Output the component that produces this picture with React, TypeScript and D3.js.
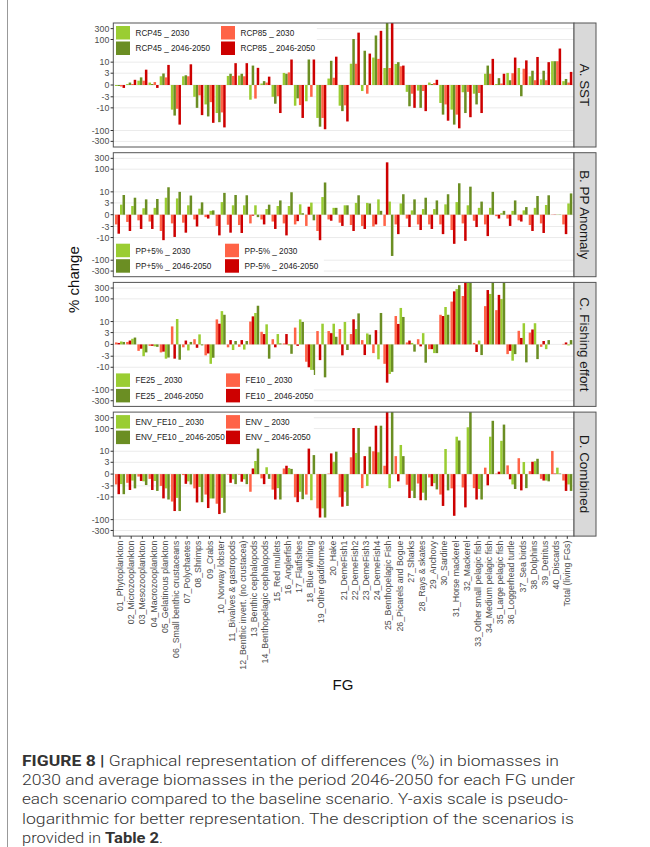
import React from "react";
import * as d3 from "d3";

// ---------- DATA ----------
const categories = [
  "01_Phytoplankton", "02_Microzooplankton", "03_Mesozooplankton", "04_Macrozooplankton",
  "05_Gelatinous plankton", "06_Small benthic crustaceans", "07_Polychaetes", "08_Shrimps",
  "09_Crabs", "10_Norway lobster", "11_Bivalves & gastropods", "12_Benthic invert. (no crustacea)",
  "13_Benthic cephalopods", "14_Benthopelagic cephalopods", "15_Red mullets", "16_Anglerfish",
  "17_Flatfishes", "18_Blue whiting", "19_Other gadiformes", "20_Hake", "21_DemeFish1",
  "22_DemeFish2", "23_DemeFish3", "24_DemeFish4", "25_Benthopelagic Fish", "26_Picarels and Bogue",
  "27_Sharks", "28_Rays & skates", "29_Anchovy", "30_Sardine", "31_Horse mackerel", "32_Mackerel",
  "33_Other small pelagic fish", "34_Medium pelagic fish", "35_Large pelagic fish",
  "36_Loggerhead turtle", "37_Sea birds", "38_Dolphins", "39_Detritus", "40_Discards",
  "Total (living FGs)",
];

const yTicks = [-300, -100, -10, -3, 0, 3, 10, 100, 300];

// A. SST
const rcp45_2030 = [-0.2, 0.2, 0.9, 0.5, 2.0, -12, 2.0, -3, -7, -17, 2.1, 2.2, -4.2, 0.3, -3, 3.1, -8, -5, -28, 1.4, -8, 8.5, -1.3, 16, 5.4, 8.3, -1.5, -1.2, 0.5, -6, -12, -1.6, -2, 2.8, 0.2, 3.1, 5.4, 2, 1.2, 11, 0.8];
const rcp45_2050 = [-0.2, 0.5, 1.7, 0.2, 2.9, -22, 2.3, -10, -24, -43, 2.8, 2.8, 7, 0.8, -6.5, 2.8, -3.6, 19, -68, 11.5, -14, 105, 32, 150, 600, 10, -8.5, -10, 0.2, -20, -55, -17, -7, 7, 1.5, 1, -2.8, 4, 4, 11, 1.3];
const rcp85_2030 = [-0.3, 0.2, 0.9, 0.6, 1.7, -11, 2.0, -2.5, -5.5, -16, 2.1, 2.0, -3.7, 0.5, -2.8, 3.3, -7.5, -3, -28, 1.6, -7.7, 8.5, -2, 14, 5.4, 6.5, -2, -1.3, 0.4, -7, -20, -1.5, -1.8, 2.8, 0.3, 3, 5, 1, 1, 11, 0.5];
const rcp85_2050 = [-0.6, 1.1, 4.5, -0.6, 7.5, -55, 8, -21, -46, -73, 9, 9, 5.5, 1.9, -17, 19, -28, 17, -88, 17.5, -40, 200, 24, 240, 600, 7, -10, -14, 1.1, -37, -80, -26, -17, 14, 2.8, 16, 12, 17, 10, 40, 3.5];

// B. PP Anomaly
const ppPlus_2030 = [2.4, 2, 1.4, 1.5, 5.4, 5, 2.2, 1.3, 0.8, 3.3, 2.2, 2.2, 2.2, 1.2, 2, 2, 2.5, 3.1, 5.8, 1.5, 2.2, 3, 3, 4.5, 3.5, 2.8, 0.9, 1.2, 1.2, 2.5, 3.3, 2.2, 1.5, 1.5, 0.3, 0.8, 0.9, 1.5, 2.3, 0.05, 2.8];
const ppPlus_2050 = [7.2, 5.4, 4.5, 4.7, 16, 10, 6.8, 3.2, 0.9, 9, 7.2, 7, -0.5, 2.4, 4, 9.6, 0.3, -1.2, 26, 1.5, 2.2, 7, 2.8, 0.8, -65, 7.8, 4.5, 5.4, 4, 7.8, 24, 17, 3.5, 10, 0.8, 4, 1.7, 6.5, 7, 0.05, 8.5];
const ppMinus_2030 = [-2.3, -1.6, -1.2, -1.5, -5, -2, -1.8, -1, -0.5, -2.8, -2.4, -2.5, -2, -1, -1.5, -2, -2.3, -2.8, -5, -1, -1.8, -2.5, -2.8, -3, -2.8, -2.3, -0.8, -2.3, -2.3, -2.3, -4.5, -2, -1.3, -2.3, -0.3, -0.8, -1.2, -2.5, -2, -0.05, -2.3];
const ppMinus_2050 = [-6.7, -5, -4, -4, -14, -9.4, -6, -3, -0.8, -8, -6, -6.2, -0.2, -2.3, -4, -8, -1.4, 1.8, -18, -1.3, -2.8, -5, -4, -2.3, 200, -7, -3.2, -4.5, -4, -7, -19, -14, -3.2, -8.6, -0.8, -2.8, -1.5, -5, -6.2, -0.05, -7];

// C. Fishing effort
const fe25_2030 = [0.6, 1.2, -3, -0.4, -4, 13, -1.3, 2.4, -7, 29, -1.2, -1.1, 24, 7.5, 2.5, -0.2, 12.5, -14, 8, 8, 9.6, 4.5, 2.7, -4.3, -20, 40, 0.3, 2.8, -2, 44, 270, 600, 0.8, 165, 98, -5, 8.4, 8.4, -1, 0, -0.2];
const fe25_2050 = [0.5, 1.5, -1.8, -0.5, -3.5, -4.5, 0.5, -0.2, -3.6, 20, 0.7, 0.7, 50, -4, 0.2, -2.2, 9.6, -22, -28, 1.7, -1.2, 23, 2.3, 24, -16, 16, -1.6, -6.2, -2, 20, 400, 600, -2.6, 600, 600, -2.3, -6, -4.2, 0.9, 0, 0.9];
const fe10_2030 = [0.4, 0.5, -1.4, -0.3, -1.8, 6, -0.6, 1.1, -2.7, 12.5, -0.6, -0.5, 10, 3.3, 1.1, 0.2, 5.3, -5.6, 3.6, 3.6, 4.5, 2.5, 0.9, -2, -7, 17.6, 0.4, 1.1, -1, 20, 76, 134, 0.3, 48, 32, -2.3, 3.7, 3, -0.5, 0, 0.1];
const fe10_2050 = [0.3, 0.8, -0.9, -0.3, -1.6, -4, 0.8, -0.7, -2.1, 8, 0.9, 0.9, 17, 2.5, -0.6, 2.5, -0.3, -10, -4.7, 2.8, -2.7, 12.6, -2.6, 4, -48, 7.8, 0.8, -0.4, -1, 17.6, 214, 600, -1.7, 245, 150, -1.4, 1.4, 4.3, 0.7, 0, 0.4];

// D. Combined
const envFe10_2030 = [-2.4, -1.4, -1.6, -1.5, -4, -11, -1.6, -3.4, -11.7, -11, -1.1, -1.1, 3.5, 1.5, -3.9, 1.3, -5.8, -14, -32, 3.2, -5.8, 8.4, -3, 9, -3.9, 19, -5.2, -6.4, -2.1, 12.6, 44, 114, -4.3, 44, 29, -2.5, 3.1, 3.4, -1.4, 1.4, -2.5];
const envFe10_2050 = [-7.5, -4, -2.7, -5.3, -13, -42, -2.5, -17, -11.7, -50, -2.4, -2.4, 15, -1, -13, 1.1, -12.6, 6.7, -81, 9.6, -25, 106, 16, 134, 600, 6, -11.2, -14, -4.5, -5, 30, 600, -13, 220, 150, -4.3, -3.9, 4.5, -1.6, 0.1, -5.3];
const env_2030 = [-2.5, -2, -0.5, -1, -3, -16, -0.2, -4, -7.8, -20, -0.1, -0.1, -5.8, -0.9, -4.6, 1.2, -10.3, -7.8, -32, 0.1, -10.3, 5.3, -3.9, 10, 1.9, 6, -2.6, -2.2, -0.7, -7.8, -4, -3.6, -3.9, 1.4, 0.1, 2, 4.8, 0.6, -1, 10.3, -1.4];
const env_2050 = [-7.5, -4.8, -1.5, -4.8, -11.6, -42, -2.3, -17.6, -31, -57, -2, -1.7, 1.2, -2.4, -13, 1.9, -17, 19, -81, 8, -27, 106, 6, 134, 600, -1.6, -11.2, -14, -3.1, -25, -68, -29, -13, -2.8, 0.5, -1.1, -5, 3.2, -1.4, 0.1, -5.3];

const C_LG = "#9ACD32";
const C_DG = "#6B8E23";
const C_SAL = "#FF6347";
const C_RED = "#CD0000";

const panels = [
  {
    strip: "A. SST", legendAt: "top", col2X: 221, boxW: 203,
    series: [
      { label: "RCP45 _ 2030", values: rcp45_2030, color: C_LG },
      { label: "RCP45 _ 2046-2050", values: rcp45_2050, color: C_DG },
      { label: "RCP85 _ 2030", values: rcp85_2030, color: C_SAL },
      { label: "RCP85 _ 2046-2050", values: rcp85_2050, color: C_RED },
    ],
    dodge: [0, 1, 2, 3],
  },
  {
    strip: "B. PP Anomaly", legendAt: "bottom", col2X: 225, boxW: 210,
    series: [
      { label: "PP+5% _ 2030", values: ppPlus_2030, color: C_LG },
      { label: "PP+5% _ 2046-2050", values: ppPlus_2050, color: C_DG },
      { label: "PP-5% _ 2030", values: ppMinus_2030, color: C_SAL },
      { label: "PP-5% _ 2046-2050", values: ppMinus_2050, color: C_RED },
    ],
    dodge: [2, 3, 0, 1],
  },
  {
    strip: "C. Fishing effort", legendAt: "bottom", col2X: 226, boxW: 200,
    series: [
      { label: "FE25 _ 2030", values: fe25_2030, color: C_LG },
      { label: "FE25 _ 2046-2050", values: fe25_2050, color: C_DG },
      { label: "FE10 _ 2030", values: fe10_2030, color: C_SAL },
      { label: "FE10 _ 2046-2050", values: fe10_2050, color: C_RED },
    ],
    dodge: [2, 3, 0, 1],
  },
  {
    strip: "D. Combined", legendAt: "top", col2X: 226, boxW: 200,
    series: [
      { label: "ENV_FE10 _ 2030", values: envFe10_2030, color: C_LG },
      { label: "ENV_FE10 _ 2046-2050", values: envFe10_2050, color: C_DG },
      { label: "ENV _ 2030", values: env_2030, color: C_SAL },
      { label: "ENV _ 2046-2050", values: env_2050, color: C_RED },
    ],
    dodge: [2, 3, 0, 1],
  },
];

const captionLines = [
  { bold: "FIGURE 8 | ", rest: "Graphical representation of differences (%) in biomasses in", end: 559 },
  { bold: "", rest: "2030 and average biomasses in the period 2046-2050 for each FG under", end: 575 },
  { bold: "", rest: "each scenario compared to the baseline scenario. Y-axis scale is pseudo-", end: 568 },
  { bold: "", rest: "logarithmic for better representation. The description of the scenarios is", end: 574 },
  { bold: "", rest: "provided in ", bold2: "Table 2", tail: ".", end: 163 },
];

// ---------- LAYOUT ----------
const W = 650, H = 847;
const plotL = 113.3, plotR = 574, stripW = 22;
const top0 = 23, panelH = 124, panelStep = 129.7;
const FONT = "'Liberation Sans', Arial, sans-serif";
const tLim = 6.274;
const trans = (v: number) => Math.asinh(v / 2);

export default function App() {
  const x = d3.scaleBand<string>().domain(categories).range([plotL, plotR]).paddingInner(0.1).paddingOuter(0.15);
  const sub = d3.scaleBand<number>().domain([0, 1, 2, 3]).range([0, x.bandwidth()]).padding(0);
  const lastBottom = top0 + 3 * panelStep + panelH;

  return (
    <svg width={W} height={H} style={{ position: "absolute", left: 0, top: 0, background: "#fff" }} fontFamily={FONT}>
      <rect x={0} y={0} width={W} height={H} fill="#fff" />
      <line x1={7.5} x2={7.5} y1={0} y2={H} stroke="#999" strokeWidth={1} />
      <defs>
        {panels.map((p, k) => (
          <clipPath id={`clip${k}`} key={k}>
            <rect x={plotL} y={top0 + k * panelStep} width={plotR - plotL} height={panelH} />
          </clipPath>
        ))}
      </defs>
      {panels.map((p, k) => {
        const top = top0 + k * panelStep;
        const y = d3.scaleLinear().domain([-tLim, tLim]).range([top + panelH, top]);
        const yv = (v: number) => y(Math.max(-tLim, Math.min(tLim, trans(v))));
        const y0 = yv(0);
        const legTop = p.legendAt === "top" ? top + 3 : top + panelH - 33;
        const boxY = p.legendAt === "top" ? top + 0.5 : top + panelH - 36.5;
        return (
          <g key={k}>
            <rect x={plotL} y={top} width={plotR - plotL} height={panelH} fill="#fff" />
            {yTicks.map((t) => (
              <line key={t} x1={plotL} x2={plotR} y1={yv(t)} y2={yv(t)} stroke="#ebebeb" strokeWidth={1} />
            ))}
            <g clipPath={`url(#clip${k})`}>
              {categories.map((c, i) =>
                p.series.map((s, si) => {
                  const v = s.values[i];
                  const yy = yv(v);
                  return (
                    <rect
                      key={`${i}-${si}`}
                      x={(x(c) as number) + (sub(p.dodge[si]) as number)}
                      y={Math.min(yy, y0)}
                      width={sub.bandwidth()}
                      height={Math.abs(yy - y0)}
                      fill={s.color}
                    />
                  );
                })
              )}
            </g>
            {/* legend */}
            <rect x={plotL + 0.5} y={boxY} width={p.boxW} height={36} fill="#fff" />
            {p.series.map((s, si) => {
              const col = si < 2 ? 0 : 1;
              const row = si % 2;
              const kx = col === 0 ? 116 : p.col2X;
              const ky = legTop + row * 15.5;
              return (
                <g key={si}>
                  <rect x={kx} y={ky} width={14} height={13.5} fill={s.color} />
                  <text x={kx + 19.5} y={ky + 7} dy="0.35em" fontSize={8.2} fill="#222">{s.label}</text>
                </g>
              );
            })}
            <rect x={plotL} y={top} width={plotR - plotL} height={panelH} fill="none" stroke="#555" strokeWidth={1} />
            {/* y axis */}
            {yTicks.map((t) => (
              <g key={t}>
                <line x1={plotL - 2.7} x2={plotL} y1={yv(t)} y2={yv(t)} stroke="#333" strokeWidth={1} />
                <text x={plotL - 4} y={yv(t)} dy="0.35em" textAnchor="end" fontSize={8.8} fill="#4d4d4d">{t}</text>
              </g>
            ))}
            {/* strip */}
            <rect x={plotR} y={top} width={stripW} height={panelH} fill="#d9d9d9" stroke="#555" strokeWidth={1} />
            <text
              transform={`translate(${plotR + stripW / 2},${top + panelH / 2}) rotate(90)`}
              textAnchor="middle" dy="0.35em" fontSize={13.4} fill="#1a1a1a"
            >{p.strip}</text>
          </g>
        );
      })}
      {/* x axis */}
      {categories.map((c) => {
        const cx = (x(c) as number) + x.bandwidth() / 2;
        return (
          <g key={c}>
            <line x1={cx} x2={cx} y1={lastBottom} y2={lastBottom + 2.7} stroke="#333" strokeWidth={1} />
            <text transform={`translate(${cx},${lastBottom + 4.5}) rotate(-90)`} textAnchor="end" dy="0.35em" fontSize={8.8} fill="#4d4d4d">{c}</text>
          </g>
        );
      })}
      <text x={343} y={690} textAnchor="middle" fontSize={15} fill="#111">FG</text>
      <text transform={`translate(79,${(top0 + lastBottom) / 2}) rotate(-90)`} textAnchor="middle" fontSize={15} fill="#111">% change</text>
      {/* caption */}
      {captionLines.map((l, i) => (
        <text
          key={i}
          x={22}
          y={765.5 + i * 19.4}
          fontSize={14.3}
          fill="#333"
          fontFamily="Roboto, 'Liberation Sans', sans-serif"
          fontWeight={300}
          textLength={l.end - 22}
          lengthAdjust="spacingAndGlyphs"
        >
          {l.bold ? <tspan fontWeight={700}>{l.bold}</tspan> : null}
          <tspan>{l.rest}</tspan>
          {l.bold2 ? <tspan fontWeight={700}>{l.bold2}</tspan> : null}
          {l.tail ? <tspan>{l.tail}</tspan> : null}
        </text>
      ))}
    </svg>
  );
}
